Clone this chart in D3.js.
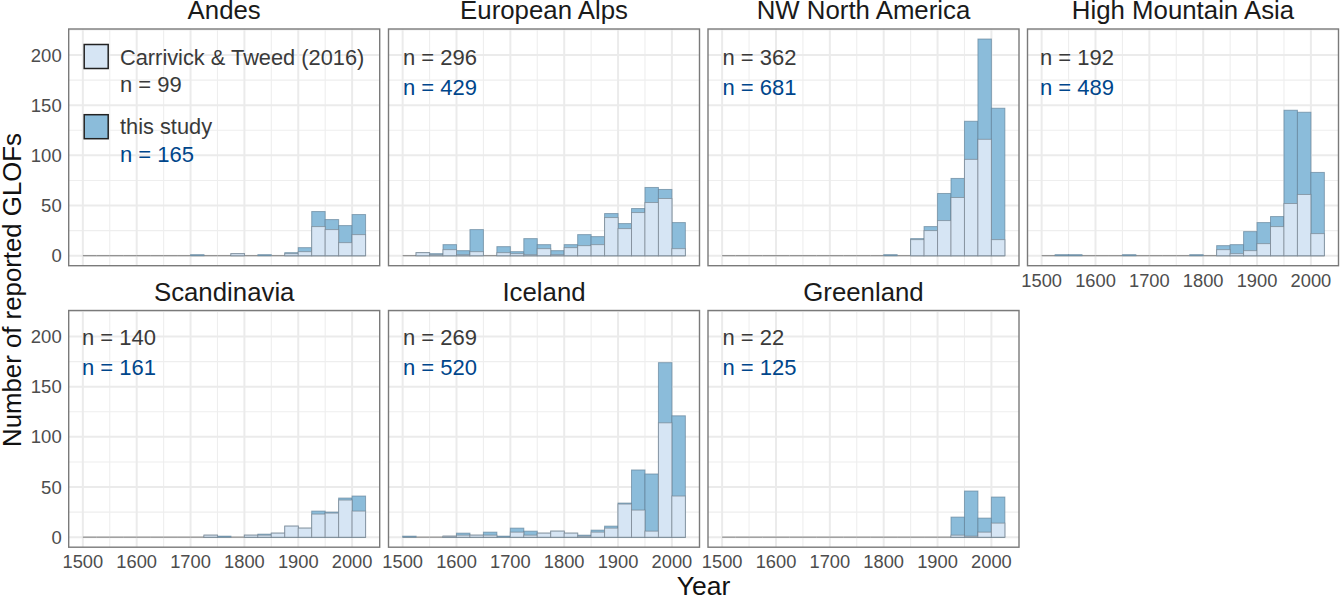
<!DOCTYPE html>
<html>
<head>
<meta charset="utf-8">
<script src="https://cdn.jsdelivr.net/npm/d3@7"></script>
<style>
  html, body { margin: 0; padding: 0; background: #fff; }
  text { font-family: "Liberation Sans", Arial, sans-serif; }
</style>
</head>
<body>
<div id="chart"></div>
<script>
// bins are 25 years wide, 1500 to 2025
const binStarts = [1500,1525,1550,1575,1600,1625,1650,1675,1700,1725,1750,1775,1800,1825,1850,1875,1900,1925,1950,1975,2000];

const regions = ["Andes","European Alps","NW North America","High Mountain Asia","Scandinavia","Iceland","Greenland"];
const nCarrivick = [99,296,362,192,140,269,22];
const nThisStudy = [165,429,681,489,161,520,125];

// this study (all reported GLOFs per bin)
const studyAndes =  [0,0,0,0,0,0,0,0,1,0,0,2,0,1,0,3,8,44,36,30,41];
const studyAlps =   [0,3,2,11,5,26,0,9,4,17,11,5,11,21,19,42,32,47,68,66,33];
const studyNWNA =   [0,0,0,0,0,0,0,0,0,0,0,0,1,0,17,29,62,77,134,216,147];
const studyHMA =    [0,1,1,0,0,0,1,0,0,0,0,1,0,10,11,24,33,39,145,143,83];
const studyScand =  [0,0,0,0,0,0,0,0,0,2,1,0,2,3,4,11,9,26,25,39,41];
const studyIceland =[1,0,0,1,4,2,5,1,9,6,4,6,4,2,7,11,34,67,63,174,121];
const studyGreen =  [0,0,0,0,0,0,0,0,0,0,0,0,0,0,0,0,0,20,46,19,40];

// Carrivick & Tweed (2016)
const carrAndes =   [0,0,0,0,0,0,0,0,0,0,0,2,0,0,0,2,4,29,26,13,21];
const carrAlps =    [0,3,1,6,1,4,0,3,2,1,7,1,8,10,11,38,27,43,53,57,7];
const carrNWNA =    [0,0,0,0,0,0,0,0,0,0,0,0,0,0,16,25,35,58,96,116,16];
const carrHMA =     [0,0,0,0,0,0,0,0,0,0,0,0,0,6,2,5,12,29,52,61,22];
const carrScand =   [0,0,0,0,0,0,0,0,0,2,0,0,2,2,4,11,9,23,24,37,26];
const carrIceland = [0,0,0,1,2,2,2,0,5,2,4,6,4,1,5,9,33,27,6,114,41];
const carrGreen =   [0,0,0,0,0,0,0,0,0,0,0,0,0,0,0,0,0,2,1,5,14];

const studySeries = [studyAndes,studyAlps,studyNWNA,studyHMA,studyScand,studyIceland,studyGreen];
const carrSeries = [carrAndes,carrAlps,carrNWNA,carrHMA,carrScand,carrIceland,carrGreen];

const xTicks = [1500,1600,1700,1800,1900,2000];
const xMinor = [1550,1650,1750,1850,1950];
const yTicks = [0,50,100,150,200];
const yMinor = [25,75,125,175,225];

const lightFill = "#d6e5f4", darkFill = "#8bbcda", blueText = "#00468b";
const colX = [68.7, 388.5, 708, 1027.5];
const rowY = [29, 310.5];
const panelW = 311, panelH = 236.7;

const svg = d3.select("#chart").append("svg")
  .attr("width", 1340)
  .attr("height", 597)
  .style("display", "block");

const x = d3.scaleLinear().domain([1473.75, 2051.25]).range([0, panelW]);
const y = d3.scaleLinear().domain([-10, 226]).range([panelH, 0]);

regions.forEach((name, i) => {
  const col = i < 4 ? i : i - 4, row = i < 4 ? 0 : 1;
  const g = svg.append("g").attr("transform", `translate(${colX[col]},${rowY[row]})`);

  // grid
  g.selectAll(".xminor").data(xMinor).enter().append("line")
    .attr("x1", d => x(d)).attr("x2", d => x(d)).attr("y1", 0).attr("y2", panelH)
    .attr("stroke", "#eeeeee").attr("stroke-width", 1.1);
  g.selectAll(".yminor").data(yMinor).enter().append("line")
    .attr("x1", 0).attr("x2", panelW).attr("y1", d => y(d)).attr("y2", d => y(d))
    .attr("stroke", "#eeeeee").attr("stroke-width", 1.1);
  g.selectAll(".xmajor").data(xTicks).enter().append("line")
    .attr("x1", d => x(d)).attr("x2", d => x(d)).attr("y1", 0).attr("y2", panelH)
    .attr("stroke", "#ebebeb").attr("stroke-width", 2);
  g.selectAll(".ymajor").data(yTicks).enter().append("line")
    .attr("x1", 0).attr("x2", panelW).attr("y1", d => y(d)).attr("y2", d => y(d))
    .attr("stroke", "#ebebeb").attr("stroke-width", 2);

  // empty bins still show as a flat line on zero
  g.selectAll(".zero").data(binStarts).enter().append("line")
    .attr("x1", d => x(d)).attr("x2", d => x(d + 25))
    .attr("y1", y(0)).attr("y2", y(0))
    .attr("stroke", "#8c8c8c").attr("stroke-width", 1.2);

  // bars, light ones on top of the dark ones
  g.selectAll(".study").data(studySeries[i]).enter().append("rect")
    .attr("x", (d, j) => x(binStarts[j]))
    .attr("y", d => y(d))
    .attr("width", x(1525) - x(1500))
    .attr("height", d => y(0) - y(d))
    .attr("fill", darkFill)
    .attr("stroke", "#5f7f96").attr("stroke-opacity", 0.65).attr("stroke-width", 1);
  g.selectAll(".carr").data(carrSeries[i]).enter().append("rect")
    .attr("x", (d, j) => x(binStarts[j]))
    .attr("y", d => y(d))
    .attr("width", x(1525) - x(1500))
    .attr("height", d => y(0) - y(d))
    .attr("fill", lightFill)
    .attr("stroke", "#6f7a84").attr("stroke-opacity", 0.6).attr("stroke-width", 1);

  g.append("rect")
    .attr("width", panelW).attr("height", panelH)
    .attr("fill", "none").attr("stroke", "#7a7a7a").attr("stroke-width", 1.4);

  // facet title
  g.append("text")
    .attr("x", panelW / 2).attr("y", -10)
    .attr("text-anchor", "middle").attr("font-size", 25.8).attr("fill", "#1a1a1a")
    .text(name);

  // y axis only on the left column
  if (col === 0) {
    g.selectAll(".ylab").data(yTicks).enter().append("text")
      .attr("x", -7).attr("y", d => y(d) + 6.5)
      .attr("text-anchor", "end").attr("font-size", 18.5).attr("fill", "#4d4d4d")
      .text(d => d);
  }
  // x axis under the lowest panel of each column
  if (row === 1 || col === 3) {
    g.selectAll(".xlab").data(xTicks).enter().append("text")
      .attr("x", d => x(d)).attr("y", panelH + 21)
      .attr("text-anchor", "middle").attr("font-size", 18.3).attr("fill", "#4d4d4d")
      .text(d => d);
  }

  // counts
  const nY = row === 0 ? [35.5, 66] : [34.5, 64.8];
  if (i === 0) {
    const lg = g.append("g");
    lg.append("rect").attr("x", 15.5).attr("y", 15.5).attr("width", 24).attr("height", 24)
      .attr("fill", lightFill).attr("stroke", "#222").attr("stroke-width", 1.5);
    lg.append("rect").attr("x", 15.5).attr("y", 85.7).attr("width", 24).attr("height", 24)
      .attr("fill", darkFill).attr("stroke", "#222").attr("stroke-width", 1.5);
    lg.append("text").attr("x", 51.3).attr("y", 36).attr("font-size", 21.8).attr("fill", "#3a3a3a").text("Carrivick & Tweed (2016)");
    lg.append("text").attr("x", 51.3).attr("y", 63).attr("font-size", 22).attr("fill", "#3a3a3a").text("n = " + nCarrivick[i]);
    lg.append("text").attr("x", 51.3).attr("y", 105).attr("font-size", 21.8).attr("fill", "#3a3a3a").text("this study");
    lg.append("text").attr("x", 51.3).attr("y", 133).attr("font-size", 22).attr("fill", blueText).text("n = " + nThisStudy[i]);
  } else {
    const nX = col === 3 ? 12.5 : col === 0 ? 13.3 : 14.5;
    g.append("text").attr("x", nX).attr("y", nY[0]).attr("font-size", 22).attr("fill", "#3a3a3a").text("n = " + nCarrivick[i]);
    g.append("text").attr("x", nX).attr("y", nY[1]).attr("font-size", 22).attr("fill", blueText).text("n = " + nThisStudy[i]);
  }
});

svg.append("text")
  .attr("transform", "translate(21,290) rotate(-90)")
  .attr("text-anchor", "middle").attr("font-size", 25.8).attr("fill", "#111")
  .text("Number of reported GLOFs");
svg.append("text")
  .attr("x", 703.5).attr("y", 595)
  .attr("text-anchor", "middle").attr("font-size", 26.5).attr("fill", "#111")
  .text("Year");
</script>
</body>
</html>
